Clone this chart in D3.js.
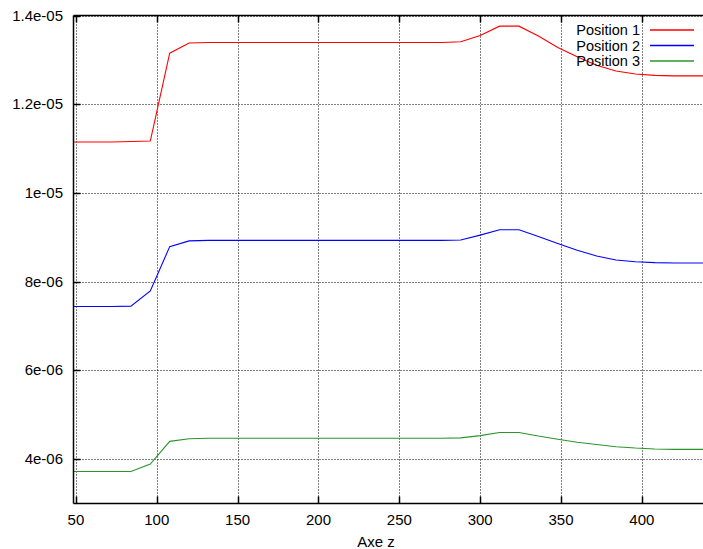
<!DOCTYPE html>
<html><head><meta charset="utf-8">
<script src="https://cdn.jsdelivr.net/npm/d3@7"></script>
<style>body{margin:0;background:#fff}svg{display:block}text{font-family:"Liberation Sans",Arial,sans-serif;font-size:15px;fill:#000}</style>
</head><body><svg id="c" width="703" height="549"></svg>
<script>
// z positions (Axe z)
const zValues = [48,60,72,84,96,108,120,132,144,156,168,180,192,204,216,228,240,252,264,276,288,300,312,324,336,348,360,372,384,396,408,420,432,444];
// values in units of 1e-6
const position1 = [11.15,11.15,11.15,11.16,11.17,13.15,13.38,13.39,13.39,13.39,13.39,13.39,13.39,13.39,13.39,13.39,13.39,13.39,13.39,13.39,13.41,13.55,13.76,13.76,13.54,13.28,13.07,12.88,12.75,12.68,12.65,12.64,12.64,12.64];
const position2 = [7.44,7.44,7.44,7.45,7.79,8.79,8.92,8.93,8.93,8.93,8.93,8.93,8.93,8.93,8.93,8.93,8.93,8.93,8.93,8.93,8.94,9.05,9.17,9.17,9.02,8.86,8.71,8.58,8.49,8.45,8.43,8.42,8.42,8.42];
const position3 = [3.72,3.72,3.72,3.72,3.89,4.40,4.46,4.47,4.47,4.47,4.47,4.47,4.47,4.47,4.47,4.47,4.47,4.47,4.47,4.47,4.48,4.53,4.60,4.60,4.52,4.45,4.38,4.33,4.28,4.25,4.23,4.22,4.22,4.22];
const seriesNames = ["Position 1","Position 2","Position 3"];
const seriesColors = ["#ff0000","#0000ff","#2a962a"];
const xTicks = [50,100,150,200,250,300,350,400];
const yTicks = [4,6,8,10,12,14];
const yTickLabels = ["4e-06","6e-06","8e-06","1e-05","1.2e-05","1.4e-05"];
const xLabel = "Axe z";

const svg = d3.select("#c");
const L = 73.5, T = 15.5, B = 503.5, R = 703;
const x = d3.scaleLinear().domain([48.5, 437.8]).range([L, R]);
const y = d3.scaleLinear().domain([3, 14]).range([B, T]);

// grid
const g = svg.append("g");
g.selectAll(".gx").data(xTicks).enter().append("line")
  .attr("x1", d => Math.round(x(d)) + 0.5).attr("x2", d => Math.round(x(d)) + 0.5)
  .attr("y1", T).attr("y2", B).attr("stroke", "#000").attr("stroke-width", 1).attr("stroke-dasharray", "1,2");
g.selectAll(".gy").data(yTicks).enter().append("line")
  .attr("y1", d => Math.round(y(d)) + 0.5).attr("y2", d => Math.round(y(d)) + 0.5)
  .attr("x1", L).attr("x2", R).attr("stroke", "#000").attr("stroke-width", 1).attr("stroke-dasharray", "1,2");

// series
svg.append("clipPath").attr("id", "clip").append("rect").attr("x", L).attr("y", T).attr("width", R - L).attr("height", B - T);
const line = d3.line().x((d, i) => x(zValues[i])).y(d => y(d));
[position1, position2, position3].forEach((s, k) => {
  svg.append("path").attr("d", line(s)).attr("fill", "none").attr("stroke", seriesColors[k]).attr("stroke-width", 1.1).attr("clip-path", "url(#clip)");
});

// axes frame
svg.append("line").attr("x1", L).attr("x2", L).attr("y1", T).attr("y2", B).attr("stroke", "#000").attr("stroke-width", 1.5);
svg.append("line").attr("x1", L).attr("x2", R).attr("y1", B).attr("y2", B).attr("stroke", "#000").attr("stroke-width", 1.5);
svg.append("line").attr("x1", L).attr("x2", R).attr("y1", T).attr("y2", T).attr("stroke", "#000").attr("stroke-width", 1.5);

// ticks
svg.selectAll(".tx").data(xTicks).enter().append("line")
  .attr("x1", d => Math.round(x(d)) + 0.5).attr("x2", d => Math.round(x(d)) + 0.5)
  .attr("y1", B).attr("y2", B - 7).attr("stroke", "#000").attr("stroke-width", 1.5);
svg.selectAll(".tx2").data(xTicks).enter().append("line")
  .attr("x1", d => Math.round(x(d)) + 0.5).attr("x2", d => Math.round(x(d)) + 0.5)
  .attr("y1", T).attr("y2", T + 7).attr("stroke", "#000").attr("stroke-width", 1.5);
svg.selectAll(".ty").data(yTicks).enter().append("line")
  .attr("y1", d => Math.round(y(d)) + 0.5).attr("y2", d => Math.round(y(d)) + 0.5)
  .attr("x1", L).attr("x2", L + 7).attr("stroke", "#000").attr("stroke-width", 1.5);

// tick labels
svg.selectAll(".lx").data(xTicks).enter().append("text")
  .attr("x", d => x(d)).attr("y", B + 21).attr("text-anchor", "middle").text(d => d);
svg.selectAll(".ly").data(yTicks).enter().append("text")
  .attr("x", 63).attr("y", d => y(d) + 5).attr("text-anchor", "end").text((d, i) => yTickLabels[i]);
svg.append("text").attr("x", 376).attr("y", 547).attr("text-anchor", "middle").text(xLabel);

// legend
seriesNames.forEach((n, i) => {
  const yy = [30, 45.5, 61][i];
  svg.append("text").attr("x", 640).attr("y", yy + 5).attr("text-anchor", "end").style("font-size", "14.5px").text(n);
  svg.append("line").attr("x1", 650).attr("x2", 694).attr("y1", yy).attr("y2", yy).attr("stroke", seriesColors[i]).attr("stroke-width", 1.5);
});
</script></body></html>
